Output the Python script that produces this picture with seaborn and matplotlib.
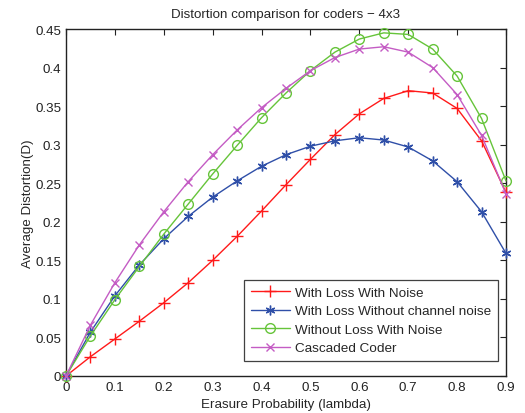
import matplotlib
matplotlib.use("Agg")
import matplotlib.pyplot as plt
import seaborn as sns
import pandas as pd

# erasure probabilities
lam = [0.0, 0.05, 0.1, 0.15, 0.2, 0.25, 0.3, 0.35, 0.4, 0.45,
       0.5, 0.55, 0.6, 0.65, 0.7, 0.75, 0.8, 0.85, 0.9]

loss_noise = [0.0, 0.025, 0.048, 0.071, 0.095, 0.121, 0.150, 0.181, 0.214, 0.248,
              0.281, 0.313, 0.340, 0.360, 0.370, 0.367, 0.347, 0.305, 0.238]
loss_no_noise = [0.0, 0.057, 0.104, 0.144, 0.178, 0.207, 0.232, 0.253, 0.272, 0.287,
                 0.298, 0.305, 0.309, 0.306, 0.297, 0.279, 0.252, 0.213, 0.159]
noloss_noise = [0.0, 0.052, 0.099, 0.142, 0.184, 0.223, 0.262, 0.299, 0.335, 0.367,
                0.396, 0.420, 0.437, 0.445, 0.443, 0.424, 0.389, 0.334, 0.253]
cascaded = [0.0, 0.066, 0.121, 0.170, 0.213, 0.252, 0.287, 0.319, 0.348, 0.373,
            0.396, 0.413, 0.424, 0.427, 0.420, 0.400, 0.365, 0.312, 0.236]

labels = ["With Loss With Noise", "With Loss Without channel noise",
          "Without Loss With Noise", "Cascaded Coder"]
series = [loss_noise, loss_no_noise, noloss_noise, cascaded]
colors = ["#ff1a1a", "#2f4fa8", "#66c43a", "#c45cc4"]
markers = ["+", (6, 2, 0), "o", "x"]
sizes = [8, 7, 7, 5.5]

sns.set_style("white")
plt.rcParams["font.family"] = ["Liberation Sans", "DejaVu Sans"]
fs = 9.6

fig = plt.figure(figsize=(5.25, 4.14), dpi=100)
ax = fig.add_axes([0.1257, 0.0894, 0.8381, 0.8381])

for lab, vals, c, m, s in zip(labels, series, colors, markers, sizes):
    df = pd.DataFrame({"lambda": lam, "D": vals})
    sns.lineplot(data=df, x="lambda", y="D", ax=ax, color=c, marker=m,
                 markersize=s, markeredgecolor=c, markeredgewidth=1.0,
                 markerfacecolor="none", linewidth=1.0, label=lab,
                 clip_on=False, zorder=3)

ax.set_xlim(0, 0.9)
ax.set_ylim(0, 0.45)
ax.set_xticks([0, 0.1, 0.2, 0.3, 0.4, 0.5, 0.6, 0.7, 0.8, 0.9])
ax.set_xticklabels(["0", "0.1", "0.2", "0.3", "0.4", "0.5", "0.6", "0.7", "0.8", "0.9"])
ax.set_yticks([0, 0.05, 0.1, 0.15, 0.2, 0.25, 0.3, 0.35, 0.4, 0.45])
ax.set_yticklabels(["0", "0.05", "0.1", "0.15", "0.2", "0.25", "0.3", "0.35", "0.4", "0.45"])
ax.tick_params(direction="in", top=True, right=True, length=4, width=0.8,
               labelsize=fs, colors="#222222", pad=3.5)
for sp in ax.spines.values():
    sp.set_color("#222222")
    sp.set_linewidth(1.0)

ax.set_title("Distortion comparison for coders \u2212 4x3", fontsize=fs, pad=9)
ax.set_xlabel("Erasure Probability (lambda)", fontsize=fs, labelpad=4)
ax.set_ylabel("Average Distortion(D)", fontsize=fs, labelpad=1)

leg = ax.legend(loc="lower right", bbox_to_anchor=(0.982, 0.043),
                fontsize=9.7, frameon=True, fancybox=False,
                edgecolor="#111111", borderaxespad=0.0, handlelength=2.9,
                labelspacing=0.45, borderpad=0.5, handletextpad=0.4)
leg.get_frame().set_linewidth(0.9)
leg.set_zorder(5)

fig.savefig("out.png", dpi=100)
